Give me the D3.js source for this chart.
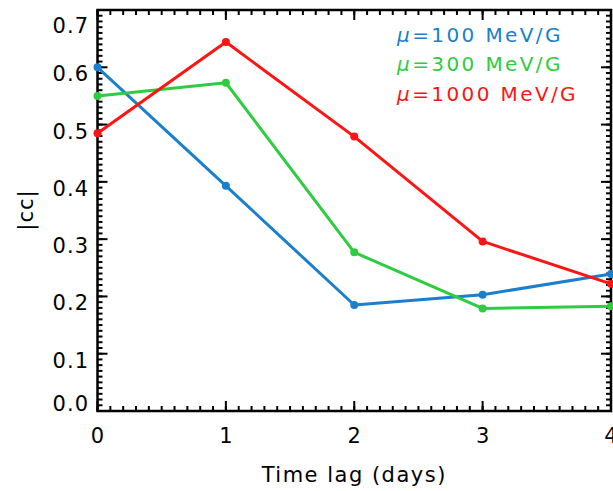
<!DOCTYPE html>
<html>
<head>
<meta charset="utf-8">
<script src="https://cdn.jsdelivr.net/npm/d3@7/dist/d3.min.js"></script>
<style>
  html, body { margin: 0; padding: 0; background: #fff; overflow: hidden; }
  svg { display: block; }
  text { font-family: "DejaVu Sans", sans-serif; fill: #000; }
</style>
</head>
<body>
<svg id="chart" width="613" height="491"></svg>
<script>
// Time lags (days) and |cc| for each magnetic moment
const lags = [0, 1, 2, 3, 4];
const cc100 = [0.600, 0.393, 0.185, 0.203, 0.239];
const cc300 = [0.550, 0.573, 0.277, 0.179, 0.183];
const cc1000 = [0.485, 0.644, 0.479, 0.296, 0.222];
const seriesMu = ["100", "300", "1000"];
const seriesColors = ["#1a7fcc", "#2ecc40", "#ff1414"];
const xTicks = [0, 1, 2, 3, 4];
const yTicks = [0.0, 0.1, 0.2, 0.3, 0.4, 0.5, 0.6, 0.7];

const svg = d3.select("#chart");
const plot = { left: 97.5, right: 611, top: 10, bottom: 411 };

const x = d3.scaleLinear().domain([0, 4]).range([plot.left, plot.right]);
const y = d3.scaleLinear().domain([0, 0.7]).range([plot.bottom, plot.top]);

const xMinor = d3.range(0, 41).map(i => i / 10);
const yMinor = d3.range(0, 71).map(i => i / 100);
const majorLen = 10, minorLen = 5;

// tick marks on all four sides, pointing into the plot
const ticks = svg.append("g").attr("stroke", "#000").attr("stroke-width", 2);
function xTickMarks(vals, len) {
  ticks.append("g").selectAll("line").data(vals).join("line")
    .attr("x1", d => x(d)).attr("x2", d => x(d))
    .attr("y1", plot.bottom).attr("y2", plot.bottom - len);
  ticks.append("g").selectAll("line").data(vals).join("line")
    .attr("x1", d => x(d)).attr("x2", d => x(d))
    .attr("y1", plot.top).attr("y2", plot.top + len);
}
function yTickMarks(vals, len) {
  ticks.append("g").selectAll("line").data(vals).join("line")
    .attr("y1", d => y(d)).attr("y2", d => y(d))
    .attr("x1", plot.left).attr("x2", plot.left + len);
  ticks.append("g").selectAll("line").data(vals).join("line")
    .attr("y1", d => y(d)).attr("y2", d => y(d))
    .attr("x1", plot.right).attr("x2", plot.right - len);
}
xTickMarks(xMinor, minorLen);
xTickMarks(xTicks, majorLen);
yTickMarks(yMinor, minorLen);
yTickMarks(yTicks, majorLen);

// frame
svg.append("rect")
  .attr("x", plot.left).attr("y", plot.top)
  .attr("width", plot.right - plot.left).attr("height", plot.bottom - plot.top)
  .attr("fill", "none").attr("stroke", "#000").attr("stroke-width", 2.5);

// tick labels
svg.append("g").selectAll("text").data(xTicks).join("text")
  .attr("x", d => x(d)).attr("y", 443)
  .attr("text-anchor", "middle")
  .attr("font-size", 21)
  .text(d3.format("d"));

// y labels sit a little below their ticks; the end labels are kept inside the axis span
function yLabelCenter(d) {
  if (d === 0.7) return y(d) + 15;
  if (d === 0.0) return y(d) - 8;
  return y(d) + 6.5;
}
svg.append("g").selectAll("text").data(yTicks).join("text")
  .attr("x", 89).attr("y", d => yLabelCenter(d))
  .attr("dy", "0.36em")
  .attr("text-anchor", "end")
  .attr("font-size", 21)
  .attr("letter-spacing", 1)
  .text(d3.format(".1f"));

// series
const allSeries = [cc100, cc300, cc1000];
const line = d3.line().x((d, i) => x(lags[i])).y(d => y(d));
allSeries.forEach((vals, k) => {
  svg.append("path").datum(vals)
    .attr("d", line)
    .attr("fill", "none")
    .attr("stroke", seriesColors[k])
    .attr("stroke-width", 3)
    .attr("stroke-linejoin", "round");
  svg.append("g").selectAll("circle").data(vals).join("circle")
    .attr("cx", (d, i) => x(lags[i]))
    .attr("cy", d => y(d))
    .attr("r", 4)
    .attr("fill", seriesColors[k]);
});

// legend
const legend = svg.append("g");
seriesMu.forEach((mu, k) => {
  const t = legend.append("text")
    .attr("x", 397).attr("y", 42 + k * 29.3)
    .attr("font-size", 20)
    .attr("letter-spacing", 2.4)
    .style("fill", seriesColors[k]);
  t.append("tspan").attr("font-style", "italic").text("\u03bc");
  t.append("tspan").text("=" + mu + " MeV/G");
});

// axis titles
svg.append("text")
  .attr("x", (plot.left + plot.right) / 2).attr("y", 482)
  .attr("text-anchor", "middle")
  .attr("font-size", 21)
  .attr("letter-spacing", 1.5)
  .text("Time lag (days)");

svg.append("text")
  .attr("transform", "translate(33,210) rotate(-90)")
  .attr("text-anchor", "middle")
  .attr("font-size", 21)
  .attr("letter-spacing", 1)
  .text("|cc|");
</script>
</body>
</html>
